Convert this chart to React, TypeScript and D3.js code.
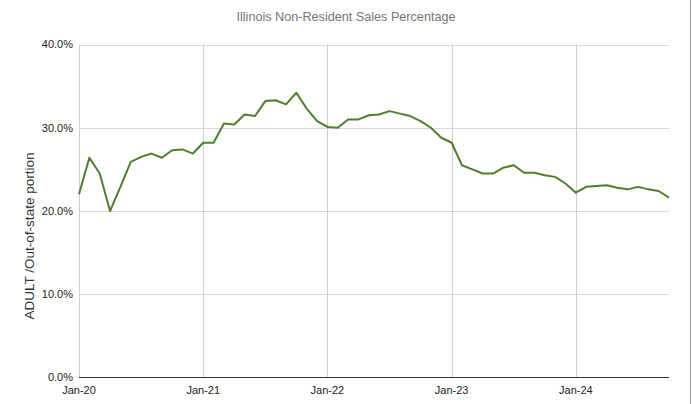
import React from "react";
import * as d3 from "d3";

const months: string[] = (() => {
  const names = ["Jan", "Feb", "Mar", "Apr", "May", "Jun", "Jul", "Aug", "Sep", "Oct", "Nov", "Dec"];
  const out: string[] = [];
  for (let y = 20; y <= 24; y++) for (const n of names) out.push(`${n}-${y}`);
  return out.slice(0, 58);
})();

const values: number[] = [
  22.0, 26.4, 24.5, 20.0, 22.9, 25.9, 26.5, 26.9, 26.4, 27.3, 27.4, 26.9,
  28.2, 28.2, 30.5, 30.4, 31.6, 31.4, 33.2, 33.3, 32.8, 34.2, 32.3, 30.8,
  30.1, 30.0, 31.0, 31.0, 31.5, 31.6, 32.0, 31.7, 31.4, 30.8, 30.0, 28.8,
  28.2, 25.5, 25.0, 24.5, 24.5, 25.2, 25.5, 24.6, 24.6, 24.3, 24.1, 23.3,
  22.2, 22.9, 23.0, 23.1, 22.8, 22.6, 22.9, 22.6, 22.4, 21.6,
];

const xTickLabels = ["Jan-20", "Jan-21", "Jan-22", "Jan-23", "Jan-24"];
const yTicks = [0, 10, 20, 30, 40];

const title = "Illinois Non-Resident Sales Percentage";
const yTitle = "ADULT /Out-of-state portion";

export default function App() {
  const W = 692, H = 404;
  const left = 79, right = 669, top = 44.5, bottom = 377.5;
  const x = d3.scaleLinear().domain([0, values.length - 1]).range([left, right]);
  const y = d3.scaleLinear().domain([0, 40]).range([bottom, top]);
  const line = d3.line<number>().x((_, i) => x(i)).y((d) => y(d));
  const font = "Arial, 'Liberation Sans', Helvetica, sans-serif";

  return (
    <svg width={W} height={H} style={{ position: "fixed", left: 0, top: 0, background: "#fff" }} fontFamily={font}>
      <rect x={0} y={0} width={W} height={H} fill="#fff" />
      <text x={346} y={21} textAnchor="middle" fontSize={13} fill="#757575" textLength={219} lengthAdjust="spacingAndGlyphs">{title}</text>
      {yTicks.map((t) => (
        <g key={t}>
          {t > 0 && <line x1={left} x2={right} y1={Math.round(y(t)) + 0.5} y2={Math.round(y(t)) + 0.5} stroke="#d9d9d9" />}
          <text x={73} y={y(t)} dy="0.35em" textAnchor="end" fontSize={11} fill="#222">{d3.format(".1f")(t)}%</text>
        </g>
      ))}
      {xTickLabels.map((lab) => {
        const i = months.indexOf(lab);
        const xx = Math.round(x(i)) + 0.5;
        return (
          <g key={lab}>
            <line x1={xx} x2={xx} y1={top} y2={bottom} stroke="#cfcfcf" />
            <text x={x(i)} y={390} dy="0.35em" textAnchor="middle" fontSize={11} fill="#222">{lab}</text>
          </g>
        );
      })}
      <line x1={left} x2={right} y1={377.5} y2={377.5} stroke="#333" />
      <text transform={`translate(34,236) rotate(-90)`} textAnchor="middle" fontSize={12} fill="#333" textLength={167} lengthAdjust="spacingAndGlyphs">{yTitle}</text>
      <path d={line(values) || ""} fill="none" stroke="#4e7f2d" strokeWidth={2} strokeLinejoin="round" />
      <line x1={690.5} x2={690.5} y1={0} y2={H} stroke="#9e9e9e" />
    </svg>
  );
}
